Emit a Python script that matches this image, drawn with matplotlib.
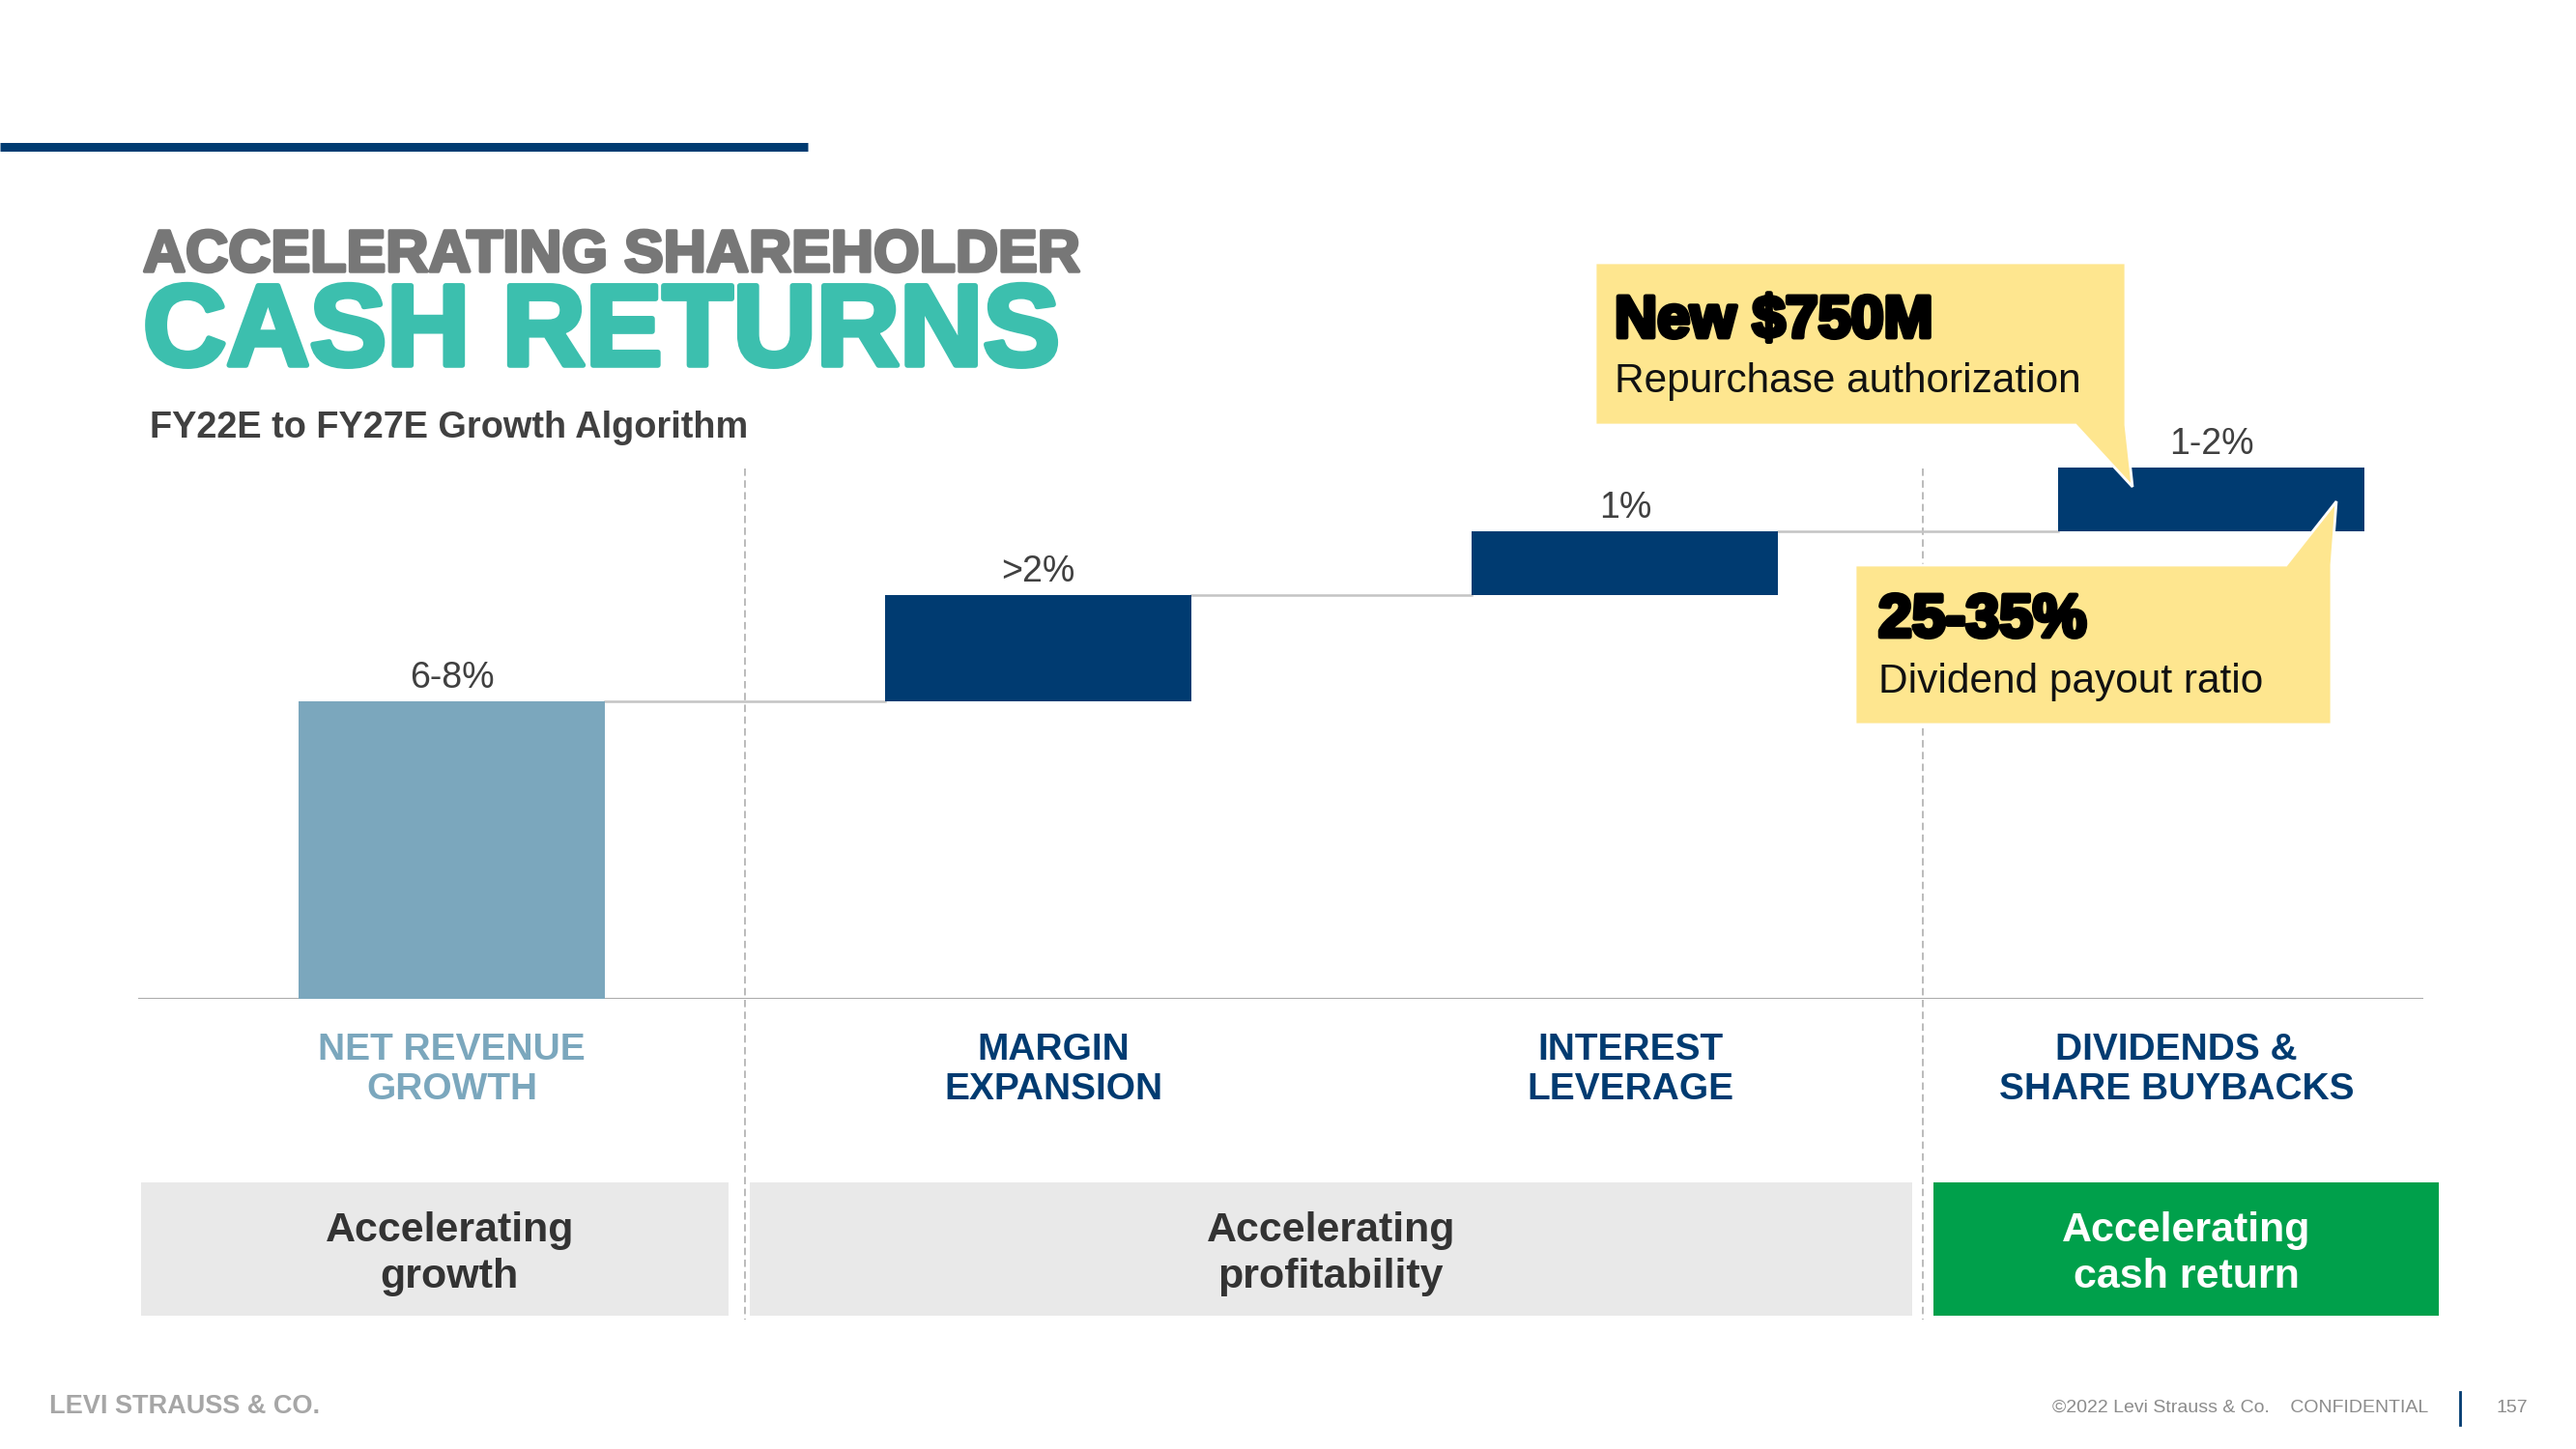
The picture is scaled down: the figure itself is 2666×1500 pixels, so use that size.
import matplotlib
matplotlib.use("Agg")
import matplotlib.pyplot as plt
import matplotlib.patheffects as pe
from matplotlib.patches import Rectangle, Polygon
from matplotlib.transforms import blended_transform_factory

plt.rcParams['font.family'] = ['Liberation Sans', 'DejaVu Sans']

# ---- data ----
categories = ["NET REVENUE\nGROWTH", "MARGIN\nEXPANSION", "INTEREST\nLEVERAGE", "DIVIDENDS &\nSHARE BUYBACKS"]
steps = [7.0, 2.5, 1.5, 1.5]          # bar heights (waterfall increments)
value_labels = ["6-8%", ">2%", "1%", "1-2%"]
groups = ["Accelerating\ngrowth", "Accelerating\nprofitability", "Accelerating\ncash return"]
group_edges = [-0.53, 0.49, 2.507, 3.388]   # group boundaries in category units

NAVY = '#003B71'
LIGHT_BLUE = '#7BA7BD'
TEAL = '#3CBFAE'
YELLOW = '#FEE68F'
GREEN = '#00A04B'
BOX_GRAY = '#E9E9E9'

# small horizontal nudges of the slide text (category units)
cat_nudge = [0.0, 0.025, 0.01, -0.06]
group_nudge = [0.025, 0.0, 0.0]

W, H = 2666, 1500
fig = plt.figure(figsize=(W / 100, H / 100), dpi=100)
fig.patch.set_facecolor('white')

# pixel-space layer for slide furniture
deco = fig.add_axes([0, 0, 1, 1])
deco.set_xlim(0, W)
deco.set_ylim(H, 0)
deco.axis('off')

# chart axes
ax = fig.add_axes([143 / W, 1 - 1034 / H, (2508 - 143) / W, (1034 - 440) / H])
ax.patch.set_alpha(0)
ax.axis('off')

# top layer for callouts
over = fig.add_axes([0, 0, 1, 1])
over.set_xlim(0, W)
over.set_ylim(H, 0)
over.axis('off')
over.patch.set_alpha(0)

# ---- header ----
deco.plot([0, 836], [151.5, 151.5], color=NAVY, lw=6.5, solid_capstyle='butt')
deco.text(148, 281, "ACCELERATING SHAREHOLDER", fontsize=44, weight='bold', color='#777777',
          va='baseline', path_effects=[pe.withStroke(linewidth=2.5, foreground='#777777')])
deco.text(148, 378, "CASH RETURNS", fontsize=86, weight='bold', color=TEAL,
          va='baseline', path_effects=[pe.withStroke(linewidth=4, foreground=TEAL)])
deco.text(155, 453, "FY22E to FY27E Growth Algorithm", fontsize=27.3, weight='bold',
          color='#404040', va='baseline')

# ---- waterfall ----
x = list(range(len(steps)))
bottoms = [sum(steps[:i]) for i in range(len(steps))]
tops = [b + s for b, s in zip(bottoms, steps)]
bw = 0.522
colors = [LIGHT_BLUE] + [NAVY] * (len(steps) - 1)

ax.bar(x, steps, bottom=bottoms, width=bw, color=colors, zorder=3)
ax.axhline(0, color='#ABABAB', lw=2.2, zorder=2)
for i in range(len(steps) - 1):
    ax.plot([x[i] + bw / 2, x[i + 1] - bw / 2], [tops[i], tops[i]], color='#C4C4C4', lw=1.8, zorder=2)

for i, lbl in enumerate(value_labels):
    ax.annotate(lbl, (x[i], tops[i]), xytext=(0, 10), textcoords='offset points',
                ha='center', va='baseline', fontsize=27, color='#404040')

ax.set_xlim(-0.535, 3.361)
ax.set_ylim(0, 13.5)

# category labels below baseline (x from data, y in slide pixels)
trans = blended_transform_factory(ax.transData, deco.transData)
for i, cat in enumerate(categories):
    col = LIGHT_BLUE if i == 0 else NAVY
    for j, line in enumerate(cat.split("\n")):
        ax.text(x[i] + cat_nudge[i], 1097 + j * 41, line, transform=trans, ha='center',
                va='baseline', fontsize=28, weight='bold', color=col, clip_on=False)

# dashed separators between groups
for sep in [0.5, 2.507]:
    ax.plot([sep, sep], [485, 1366], transform=trans, color='#A8A8A8', lw=1.1,
            ls=(0, (5, 3)), clip_on=False, zorder=1)

# group boxes
for k, g in enumerate(groups):
    left = group_edges[k] + (0.018 if k > 0 else 0)
    right = group_edges[k + 1] - (0.018 if k < len(groups) - 1 else 0)
    fc = GREEN if k == len(groups) - 1 else BOX_GRAY
    tc = 'white' if k == len(groups) - 1 else '#333333'
    ax.add_patch(Rectangle((left, 1224), right - left, 138, transform=trans,
                           facecolor=fc, edgecolor='none', clip_on=False, zorder=2))
    for j, line in enumerate(g.split("\n")):
        ax.text((left + right) / 2 + group_nudge[k], 1285 + j * 48, line, transform=trans,
                ha='center', va='baseline', fontsize=31, weight='bold', color=tc,
                clip_on=False, zorder=3)

# ---- callouts ----
c1 = Polygon([(1651, 272), (2200, 272), (2200, 440), (2207, 504), (2148, 440), (1651, 440)],
             closed=True, facecolor=YELLOW, edgecolor='white', lw=2, zorder=5)
over.add_patch(c1)
over.text(1671, 349, "New $750M", fontsize=44, weight='bold', color='black', va='baseline',
          zorder=6, path_effects=[pe.withStroke(linewidth=3.5, foreground='black')])
over.text(1671, 406, "Repurchase authorization", fontsize=30.5, color='#111111',
          va='baseline', zorder=6)

c2 = Polygon([(1920, 585), (2366, 585), (2418, 519), (2413, 585), (2413, 750), (1920, 750)],
             closed=True, facecolor=YELLOW, edgecolor='white', lw=2, zorder=5)
over.add_patch(c2)
over.text(1944, 659, "25-35%", fontsize=45, weight='bold', color='black', va='baseline',
          zorder=6, path_effects=[pe.withStroke(linewidth=3.5, foreground='black')])
over.text(1944, 717, "Dividend payout ratio", fontsize=30.5, color='#111111',
          va='baseline', zorder=6)

# ---- footer ----
deco.text(51, 1456, "LEVI STRAUSS & CO.", fontsize=19.5, weight='bold', color='#A6A6A6', va='center')
deco.text(2513, 1457, "\u00a92022 Levi Strauss & Co.    CONFIDENTIAL", fontsize=14,
          color='#8C8C8C', ha='right', va='center')
deco.plot([2546, 2546], [1441, 1475], color=NAVY, lw=2)
deco.text(2600, 1457, "157", fontsize=14, color='#8C8C8C', ha='center', va='center')

fig.savefig('out.png', dpi=100, facecolor='white')
